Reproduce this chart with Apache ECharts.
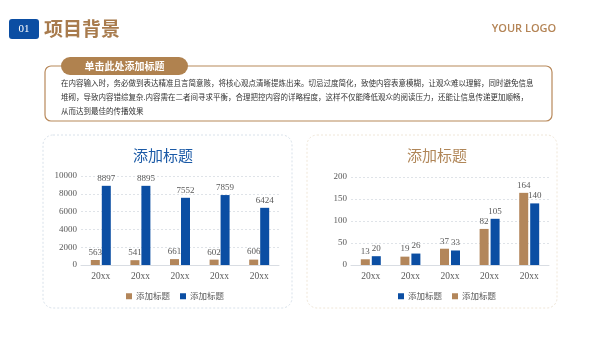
<!DOCTYPE html>
<html><head><meta charset="utf-8">
<script src="https://cdn.jsdelivr.net/npm/echarts@6/dist/echarts.min.js"></script>
<style>html,body{margin:0;padding:0;background:#fff}#c{width:600px;height:338px}</style>
</head><body><div id="c"></div>
<script>
const categories = ['20xx','20xx','20xx','20xx','20xx'];
const leftBrown = [563, 541, 661, 602, 606];
const leftBlue = [8897, 8895, 7552, 7859, 6424];
const rightBrown = [13, 19, 37, 82, 164];
const rightBlue = [20, 26, 33, 105, 140];
const leftTicks = {min: 0, max: 10000, interval: 2000};
const rightTicks = {min: 0, max: 200, interval: 50};
const bodyLines = [
  '在内容输入时，务必做到表达精准且言简意赅，将核心观点清晰提炼出来。切忌过度简化，致使内容表意模糊，让观众难以理解，同时避免信息',
  '堆砌，导致内容错综复杂.内容需在二者间寻求平衡，合理把控内容的详略程度，这样不仅能降低观众的阅读压力，还能让信息传递更加顺畅，',
  '从而达到最佳的传播效果'
];

const BLUE = '#0B4EA3', BROWN = '#B3865A', GRAY = '#595959';
const SERIF = '"Liberation Serif","Noto Sans CJK SC",serif';
const CJK = '"Noto Sans CJK SC",sans-serif';

const chart = echarts.init(document.getElementById('c'), null, {renderer: 'canvas'});

function axisSet(gi, ticks){
  return {
    x: {type:'category', gridIndex: gi, data: categories,
      axisLine:{show:true, lineStyle:{color:'#d9dde3'}}, axisTick:{show:false},
      axisLabel:{color:GRAY, fontFamily:SERIF, fontSize:9.5, margin:7}},
    y: {type:'value', gridIndex: gi, min: ticks.min, max: ticks.max, interval: ticks.interval,
      axisLine:{show:false}, axisTick:{show:false},
      axisLabel:{color:GRAY, fontFamily:SERIF, fontSize:9, margin:4, formatter: v => String(v)},
      splitLine:{lineStyle:{color:'#dfe3e8', type:[2,2]}}}
  };
}
const a0 = axisSet(0, leftTicks), a1 = axisSet(1, rightTicks);
const lbl = {show:true, position:'top', color:GRAY, fontFamily:SERIF, fontSize:9, distance:3};
function bar(name, data, color, xi){
  return {type:'bar', name, data, xAxisIndex:xi, yAxisIndex:xi, barWidth:9, barGap:'22%',
    itemStyle:{color}, label:lbl};
}
const bodyGraphics = bodyLines.map((t,i)=>({type:'text', left:61, top:79+i*14,
  style:{text:t, font:'7.5px '+CJK, fill:'#333'}}));

chart.setOption({
  backgroundColor:'#fff',
  animation:false,
  grid:[{left:81, top:176, width:198, height:89},{left:351, top:177, width:198, height:88}],
  xAxis:[a0.x, a1.x],
  yAxis:[a0.y, a1.y],
  legend:[
    {data:['lb','lu'], left:121, top:287, itemWidth:6, itemHeight:6, itemGap:10, icon:'rect',
     formatter:()=>'添加标题', textStyle:{color:GRAY, fontSize:8.5, fontFamily:CJK, padding:[0,0,0,-1]}},
    {data:['ru','rb'], left:393, top:287, itemWidth:6, itemHeight:6, itemGap:10, icon:'rect',
     formatter:()=>'添加标题', textStyle:{color:GRAY, fontSize:8.5, fontFamily:CJK, padding:[0,0,0,-1]}}
  ],
  series:[
    bar('lb', leftBrown, BROWN, 0),
    bar('lu', leftBlue, BLUE, 0),
    bar('rb', rightBrown, BROWN, 1),
    bar('ru', rightBlue, BLUE, 1)
  ],
  graphic:[
    {type:'rect', shape:{x:9, y:19, width:30, height:20, r:3}, style:{fill:BLUE}, z:1},
    {type:'text', x:24, y:29, style:{text:'01', font:'11px '+SERIF, fill:'#fff', align:'center', verticalAlign:'middle'}, z:2},
    {type:'text', x:44, y:29, style:{text:'项目背景', font:'bold 19px '+CJK, fill:'#A87B4D', verticalAlign:'middle'}},
    {type:'text', x:524, y:29, style:{text:'YOUR LOGO', font:'600 11px "Open Sans",sans-serif', fill:'#B48455', align:'center', verticalAlign:'middle'}},
    {type:'rect', shape:{x:45, y:66, width:507, height:55, r:6}, style:{fill:'#fff', stroke:'#B8895B', lineWidth:1.2}, z:1},
    {type:'rect', shape:{x:61, y:57, width:127, height:18, r:9}, style:{fill:'#B0824F'}, z:2},
    {type:'text', x:124.5, y:66, style:{text:'单击此处添加标题', font:'bold 10px '+CJK, fill:'#fff', align:'center', verticalAlign:'middle'}, z:3},
    ...bodyGraphics.map(g=>Object.assign(g,{z:3})),
    {type:'rect', shape:{x:43, y:135, width:249, height:173, r:10}, style:{fill:'none', stroke:'#d8e1ea', lineWidth:1, lineDash:[2,2]}, z:0},
    {type:'rect', shape:{x:307, y:135, width:250, height:173, r:10}, style:{fill:'none', stroke:'#efe6d8', lineWidth:1, lineDash:[2,2]}, z:0},
    {type:'text', x:163, y:155, style:{text:'添加标题', font:'15px '+CJK, fill:'#1B5AA6', align:'center', verticalAlign:'middle'}},
    {type:'text', x:437, y:155, style:{text:'添加标题', font:'15px '+CJK, fill:'#B08658', align:'center', verticalAlign:'middle'}}
  ]
});
</script></body></html>
